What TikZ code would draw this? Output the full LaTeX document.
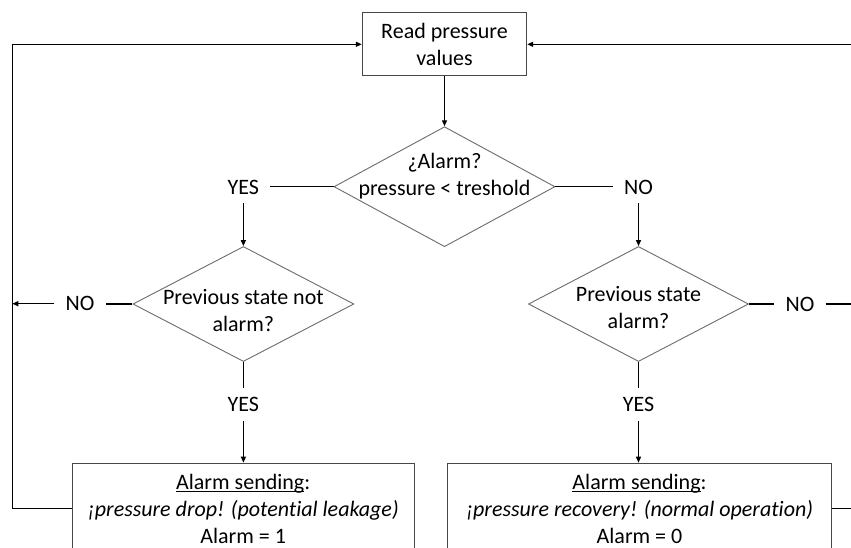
\documentclass[tikz,border=0pt]{standalone}
\usepackage{fontspec}
\setmainfont[Ligatures={NoCommon}]{Carlito}
\usetikzlibrary{arrows.meta,shapes.geometric}
\newcommand{\ulin}[1]{\setbox0\hbox{#1}\rlap{\rule[-2.6pt]{\wd0}{0.9pt}}\box0}
\begin{document}
\begin{tikzpicture}[x=1pt,y=-1pt,
  font=\fontsize{22}{26.8}\selectfont,
  procbox/.style={draw=black!72, line width=1pt, rectangle, inner xsep=0pt, align=center},
  decbox/.style={draw=black!58, line width=0.9pt, diamond, inner sep=0pt},
  lab/.style={inner xsep=11pt, inner ysep=9pt, text height=14.2pt, text depth=0pt},
  txt/.style={inner sep=0pt, align=center},
  conn/.style={line width=1.3pt, draw=black},
  arr/.style={conn, -{Triangle[length=6pt,width=5pt]}},
]
\useasboundingbox (0,0) rectangle (851,547);
\clip (0,0) rectangle (851,547);

\coordinate (loopL) at (12.3,0);
\coordinate (loopR) at (862,0);

% top process
\node[procbox, minimum width=164.4pt, minimum height=63.3pt] (read) at (444.5,44.3) {Read pressure\\values};

% decisions
\node[decbox, minimum width=221pt, minimum height=120pt] (d1) at (444.5,186.7) {};
\node[txt] (d1t) at (444.5,176.3) {¿Alarm?\\pressure < treshold};

\node[decbox, minimum width=221pt, minimum height=115pt] (d2) at (243.4,304) {};
\node[txt] (d2t) at (243.4,310.9) {Previous state not\\alarm?};

\node[decbox, minimum width=220pt, minimum height=115pt] (d3) at (638.5,304) {};
\node[txt] (d3t) at (638.5,307.6) {Previous state\\alarm?};

% labels
\node[lab] (yes1) at (243.4,187) {YES};
\node[lab] (no1) at (638.5,187) {NO};
\node[lab] (no2) at (80,303.7) {NO};
\node[lab] (no3) at (800,304) {NO};
\node[lab] (yes2) at (243.4,404.5) {YES};
\node[lab] (yes3) at (638.5,404.5) {YES};

% bottom boxes
\node[procbox, anchor=north, inner ysep=11pt, minimum width=341.7pt] (b1) at (243.2,462.7)
  {\ulin{Alarm sending}:\\\textit{¡pressure drop! (potential leakage)}\\Alarm = 1};
\node[procbox, anchor=north, inner ysep=11pt, minimum width=384.4pt] (b2) at (639.5,462.7)
  {\ulin{Alarm sending}:\\\textit{¡pressure recovery! (normal operation)}\\Alarm = 0};

% connectors
\draw[arr] (read.south) -- (d1.north);
\draw[conn] (d1.west) -- (d1.west -| yes1.east);
\draw[conn] (d1.east) -- (d1.east -| no1.west);
\draw[arr] (yes1.south) -- (d2.north);
\draw[arr] (no1.south) -- (d3.north);

\draw[conn] (d2.west) -- (d2.west -| no2.east);
\draw[arr] (no2.west) -- (no2.west -| loopL);
\draw[conn] (d3.east) -- (d3.east -| no3.west);
\draw[conn] (no3.east) -- (no3.east -| loopR);

\draw[conn] (d2.south) -- (yes2.north);
\draw[arr] (yes2.south) -- (yes2.south |- b1.north);
\draw[conn] (d3.south) -- (yes3.north);
\draw[arr] (yes3.south) -- (yes3.south |- b2.north);

\draw[arr] (b1.west) -- (b1.west -| loopL) -- (loopL |- read.west) -- (read.west);
\draw[arr] (b2.east) -- (b2.east -| loopR) -- (loopR |- read.east) -- (read.east);
\end{tikzpicture}
\end{document}
